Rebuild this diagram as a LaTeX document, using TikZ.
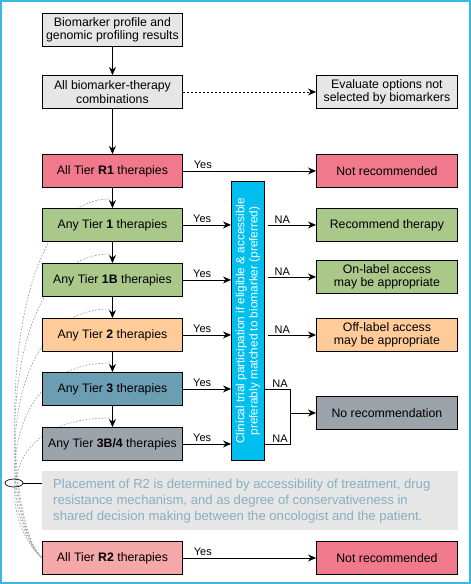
\documentclass[tikz,border=0pt]{standalone}
\usepackage{fontspec}
\setmainfont{Liberation Sans}
\usetikzlibrary{arrows.meta,shapes.geometric,backgrounds,calc}
\definecolor{frameC}{HTML}{3BB8E0}
\definecolor{grayA}{HTML}{E6E6E6}
\definecolor{redA}{HTML}{F07A8C}
\definecolor{greenA}{HTML}{A9C88A}
\definecolor{orangeA}{HTML}{FFCC99}
\definecolor{tealA}{HTML}{6B9DB3}
\definecolor{grayB}{HTML}{9DA3AA}
\definecolor{pinkA}{HTML}{F4A8A8}
\definecolor{cyanA}{HTML}{00BFEF}
\definecolor{noteT}{HTML}{86AFC5}
\begin{document}
\begin{tikzpicture}[x=1pt,y=-1pt,
  font=\fontsize{12.3}{13.5}\selectfont,
  box/.style={draw, line width=0.9pt, minimum width=140pt, minimum height=33pt,
    inner sep=0pt, align=center, anchor=north west},
  rbox/.style={box, minimum width=141pt},
  arr/.style={-{Stealth[length=8pt,width=7pt]}, line width=0.8pt},
  lbl/.style={above, inner sep=1.5pt, font=\fontsize{11}{12}\selectfont},
  curv/.style={gray!75, line width=0.7pt, dash pattern=on 1.6pt off 1.6pt}]
\useasboundingbox (0,0) rectangle (471,584);
\draw[frameC, line width=1.5pt] (1,1) rectangle (470,583);

% left column
\node[box, fill=grayA] (bio) at (42,13) {Biomarker profile and\\genomic profiling results};
\node[box, fill=grayA] (comb) at (42,75) {All biomarker-therapy\\combinations};
\node[box, fill=redA] (r1) at (42,154) {All Tier \textbf{R1} therapies};
\node[box, fill=greenA] (t1) at (42,208) {Any Tier \textbf{1} therapies};
\node[box, fill=greenA] (t1b) at (42,263) {Any Tier \textbf{1B} therapies};
\node[box, fill=orangeA] (t2) at (42,318) {Any Tier \textbf{2} therapies};
\node[box, fill=tealA] (t3) at (42,372) {Any Tier \textbf{3} therapies};
\node[box, fill=grayB] (t34) at (42,427) {Any Tier \textbf{3B/4} therapies};
\node[anchor=north west, fill=grayA, minimum width=416pt, minimum height=59pt,
  inner sep=0pt] (note) at (42,471) {};
\node[anchor=west, align=left, text=noteT, font=\fontsize{13.1}{16}\selectfont,
  inner sep=0pt] (notetxt) at ($(note.west)+(11,0)$)
  {Placement of R2 is determined by accessibility of treatment, drug\\
   resistance mechanism, and as degree of conservativeness in\\
   shared decision making between the oncologist and the patient.};
\node[box, fill=pinkA] (r2) at (42,541) {All Tier \textbf{R2} therapies};

% right column
\node[rbox, fill=grayA] (eval) at (316,75) {Evaluate options not\\selected by biomarkers};
\node[rbox, fill=redA] (nr1) at (316,154) {Not recommended};
\node[rbox, fill=greenA] (rec) at (316,208) {Recommend therapy};
\node[rbox, fill=greenA] (onl) at (316,260) {On-label access\\may be appropriate};
\node[rbox, fill=orangeA] (offl) at (316,318) {Off-label access\\may be appropriate};
\node[rbox, fill=grayB] (norec) at (316,396) {No recommendation};
\node[rbox, fill=redA] (nr2) at (316,541) {Not recommended};

% clinical trial box
\node[draw, line width=0.9pt, fill=cyanA, anchor=north west,
  minimum width=33pt, minimum height=279pt, inner sep=0pt] (clin) at (231,181) {};
\node[rotate=90, text=white, align=center, inner sep=0pt,
  font=\fontsize{11.8}{13.2}\selectfont] (clintxt) at (clin.center)
  {Clinical trial participation if eligible \& accessible\\preferably matched to biomarker (preferred)};

% vertical arrows
\draw[arr] (bio.south) -- (comb.north);
\draw[arr] (comb.south) -- (r1.north);
\draw[arr] (r1.south) -- (t1.north);
\draw[arr] (t1.south) -- (t1b.north);
\draw[arr] (t1b.south) -- (t2.north);
\draw[arr] (t2.south) -- (t3.north);
\draw[arr] (t3.south) -- (t34.north);

% dotted to evaluate
\draw[arr, dash pattern=on 2pt off 2pt] (comb.east) -- (eval.west);

% Yes arrows
\draw[arr] (r1.east) -- node[lbl, pos=0.15] {Yes} (nr1.west);
\foreach \n in {t1,t1b,t2,t3,t34}
  \draw[arr] (\n.east) -- node[lbl, pos=0.4] {Yes} (\n.east -| clin.west);
\draw[arr] (r2.east) -- node[lbl, pos=0.15] {Yes} (nr2.west);

% NA arrows
\foreach \n in {rec,onl,offl}{
  \coordinate (s\n) at ($(\n.west -| clin.east)+(3,0)$);
  \draw[arr] (s\n) -- node[lbl, pos=0.3] {NA} (\n.west);
}
\coordinate (jn) at (290,0);
\draw[line width=0.8pt] (t3.east -| clin.east) -- node[lbl, pos=0.6] {NA} (t3.east -| jn)
  -- (t34.east -| jn) -- node[lbl, pos=0.4] {NA} (t34.east -| clin.east);
\draw[arr] (norec.west -| jn) -- (norec.west);

% ellipse and connector
\node[draw, ellipse, minimum width=18pt, minimum height=8pt, inner sep=0pt,
  line width=0.7pt] (ell) at (14,483) {};
\draw[line width=0.8pt] (ell.east) -- (ell.east -| note.west);

% dashed curves behind
\begin{pgfonlayer}{background}
\foreach \n in {t1,t1b,t2,t3,t34}
  \draw[curv] ($(\n.north)+(-3,-9)$) .. controls ($(\n.north west)+(-47,-9)$) and (0,520) .. (r2.west);
\end{pgfonlayer}
\end{tikzpicture}
\end{document}
